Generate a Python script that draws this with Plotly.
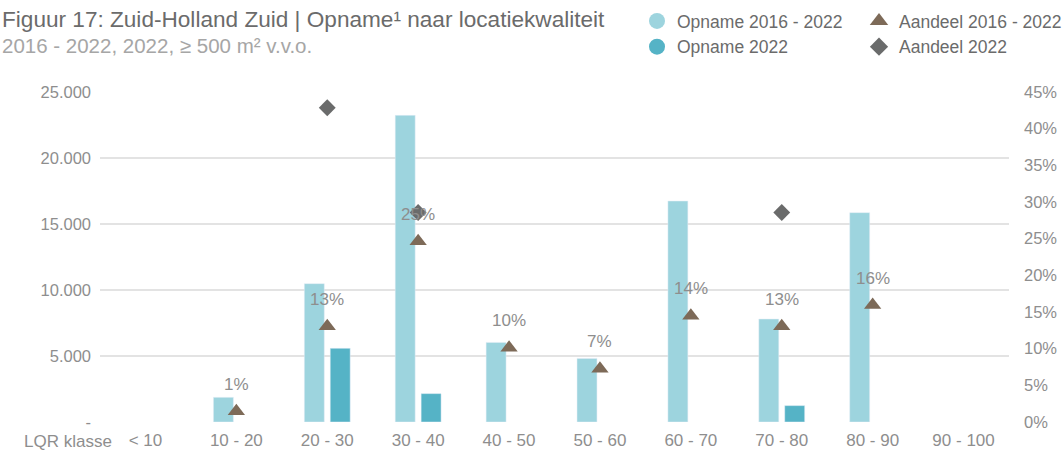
import plotly.graph_objects as go

categories = ["< 10", "10 - 20", "20 - 30", "30 - 40", "40 - 50", "50 - 60", "60 - 70", "70 - 80", "80 - 90", "90 - 100"]
opname_2016_2022 = [None, 1870, 10480, 23230, 6030, 4820, 16740, 7800, 15860, None]
opname_2022 = [None, None, 5580, 2150, None, None, None, 1240, None, None]
aandeel_2016_2022 = [None, 0.0145, 0.1304, 0.2464, 0.1014, 0.0725, 0.1449, 0.1304, 0.1594, None]
aandeel_2022 = [None, None, 0.4286, 0.2857, None, None, None, 0.2857, None, None]
left_tickvals = [0, 5000, 10000, 15000, 20000, 25000]
left_ticktext = ["-", "5.000", "10.000", "15.000", "20.000", "25.000"]
right_tickvals = [0, 0.05, 0.10, 0.15, 0.20, 0.25, 0.30, 0.35, 0.40, 0.45]

FONT = "Liberation Sans"
C_LIGHT = "#9dd4de"
C_DARK = "#55b3c6"
C_TRI = "#7d6a58"
C_DIA = "#6a6b6b"
C_TXT = "#8e8e8e"
C_LEG = "#6b6b6b"

W, H = 1062, 450
ML, MR, MT, MB = 100, 53, 92, 28
PW, PH = W - ML - MR, H - MT - MB

fig = go.Figure()
fig.add_trace(go.Bar(x=categories, y=opname_2016_2022, name="Opname 2016 - 2022",
                     marker=dict(color=C_LIGHT), showlegend=False, yaxis="y"))
fig.add_trace(go.Bar(x=categories, y=opname_2022, name="Opname 2022",
                     marker=dict(color=C_DARK), showlegend=False, yaxis="y"))
fig.add_trace(go.Scatter(x=categories, y=aandeel_2016_2022, mode="markers", name="Aandeel 2016 - 2022",
                         marker=dict(symbol="triangle-up", size=15, color=C_TRI), yaxis="y2", showlegend=False))
fig.add_trace(go.Scatter(x=categories, y=aandeel_2022, mode="markers", name="Aandeel 2022",
                         marker=dict(symbol="diamond", size=13, color=C_DIA), yaxis="y2", showlegend=False))

# legend-only entries
fig.add_trace(go.Scatter(x=[None], y=[None], mode="markers", name="Opname 2016 - 2022",
                         marker=dict(symbol="circle", size=16, color=C_LIGHT), legend="legend"))
fig.add_trace(go.Scatter(x=[None], y=[None], mode="markers", name="Opname 2022",
                         marker=dict(symbol="circle", size=16, color=C_DARK), legend="legend"))
fig.add_trace(go.Scatter(x=[None], y=[None], mode="markers", name="Aandeel 2016 - 2022",
                         marker=dict(symbol="triangle-up", size=16, color=C_TRI), legend="legend2"))
fig.add_trace(go.Scatter(x=[None], y=[None], mode="markers", name="Aandeel 2022",
                         marker=dict(symbol="diamond", size=14, color=C_DIA), legend="legend2"))

annotations = []
for c, v in zip(categories, aandeel_2016_2022):
    if v is not None:
        annotations.append(dict(x=c, y=v, xref="x", yref="y2", text=f"{round(v*100):.0f}%",
                                showarrow=False, yshift=27, font=dict(family=FONT, size=17, color=C_TXT)))

annotations.append(dict(x=-ML / PW, y=1 + (MT - 19) / PH, xref="paper", yref="paper", xanchor="left", yanchor="middle",
                        text="Figuur 17: Zuid-Holland Zuid | Opname¹ naar locatiekwaliteit", showarrow=False,
                        font=dict(family=FONT, size=22.6, color="#6b6b6b")))
annotations.append(dict(x=-ML / PW, y=1 + (MT - 45) / PH, xref="paper", yref="paper", xanchor="left", yanchor="middle",
                        text="2016 - 2022, 2022, ≥ 500 m² v.v.o.", showarrow=False,
                        font=dict(family=FONT, size=20.5, color="#a6a6a6")))
annotations.append(dict(x=(114 - ML) / PW, y=0, xref="paper", yref="paper", xanchor="right", yanchor="middle",
                        yshift=-19, text="LQR klasse", showarrow=False,
                        font=dict(family=FONT, size=17, color=C_TXT)))

fig.update_layout(
    width=W, height=H,
    margin=dict(l=ML, r=MR, t=MT, b=MB, autoexpand=False),
    paper_bgcolor="white", plot_bgcolor="white",
    barmode="group", bargap=0.43, bargroupgap=0.23,
    font=dict(family=FONT, size=16, color=C_TXT),
    xaxis=dict(type="category", range=[-0.5, len(categories) - 0.5], showgrid=False, ticks="",
               tickfont=dict(size=17, color=C_TXT),
               showline=False, zeroline=False, automargin=False, ticklabelstandoff=6),
    yaxis=dict(range=[0, 25000], tickvals=left_tickvals, ticktext=left_ticktext,
               showgrid=True, gridcolor="#e3e3e3", gridwidth=1.5, zeroline=False, automargin=False,
               ticks="", ticklabelstandoff=8, tickfont=dict(size=16.5, color=C_TXT)),
    yaxis2=dict(range=[0, 0.45], tickvals=right_tickvals, tickformat=".0%", overlaying="y", side="right",
                showgrid=False, zeroline=False, ticks="", ticklabelstandoff=14, automargin=False,
                tickfont=dict(size=16.5, color=C_TXT)),
    legend=dict(xref="container", yref="container", x=(657 - 20) / W, y=1 - 3 / H, xanchor="left", yanchor="top",
                orientation="v", font=dict(family=FONT, size=17.5, color=C_LEG), bgcolor="rgba(0,0,0,0)"),
    legend2=dict(xref="container", yref="container", x=(879 - 20) / W, y=1 - 3 / H, xanchor="left", yanchor="top",
                 orientation="v", font=dict(family=FONT, size=17.5, color=C_LEG), bgcolor="rgba(0,0,0,0)"),
    annotations=annotations,
)

fig.write_html("out.html", config={"displayModeBar": False},
               post_script="document.body.style.margin='0';")
